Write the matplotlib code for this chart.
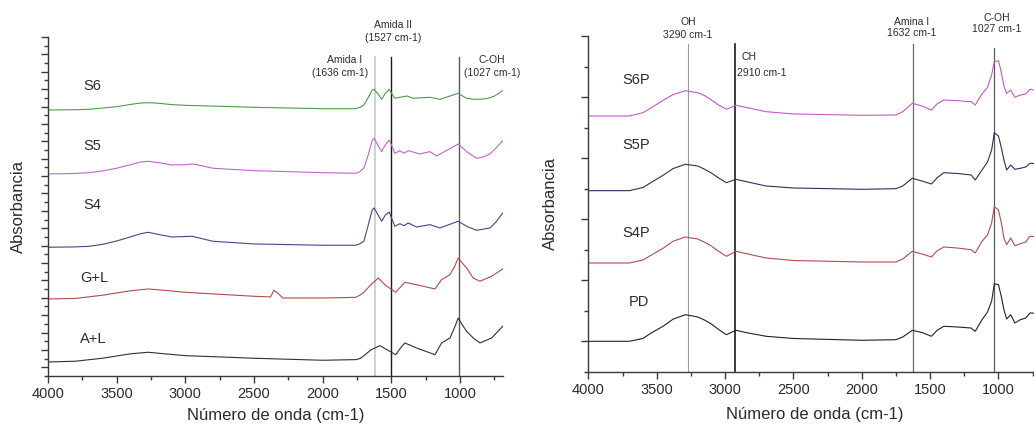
"""
FTIR spectra: films (left) and coated samples (right).
Two panels side by side, stacked spectra with assigned bands.
"""

import matplotlib
matplotlib.use("Agg")
import matplotlib.pyplot as plt
import numpy as np

# ── Data ─────────────────────────────────────────────────────────────────────
# left panel, wavenumber (cm-1) / absorbance (stacked, arbitrary units)
WN_S6 = [4000, 3800, 3700, 3600, 3500, 3400, 3330, 3270, 3200, 3100, 3000, 2800, 2500,
         2000, 1760, 1730, 1700, 1670, 1640, 1627, 1600, 1571, 1545, 1516, 1495, 1475,
         1387, 1343, 1219, 1147, 1014, 960, 905, 850, 807, 750, 690]
A_S6 = [30.60, 30.63, 30.68, 30.83, 30.98, 31.24, 31.40, 31.44, 31.38, 31.22, 31.14,
        31.05, 30.91, 30.75, 30.75, 30.90, 31.18, 32.0, 32.9, 32.98, 32.5, 31.83, 32.5,
        32.98, 32.4, 31.95, 32.21, 31.95, 32.06, 31.83, 32.52, 32.0, 31.83, 31.85,
        31.90, 32.2, 32.82]

WN_S5 = [4000, 3800, 3700, 3600, 3500, 3400, 3330, 3270, 3200, 3100, 3000, 2950, 2900,
         2800, 2500, 2000, 1760, 1730, 1700, 1670, 1640, 1627, 1600, 1571, 1545, 1516,
         1495, 1475, 1438, 1409, 1378, 1293, 1220, 1171, 1014, 980, 953, 880, 830, 783,
         740, 690]
A_S5 = [23.24, 23.30, 23.39, 23.60, 23.90, 24.30, 24.60, 24.70, 24.55, 24.28, 24.30,
        24.39, 24.25, 23.90, 23.62, 23.39, 23.32, 23.50, 23.93, 25.40, 27.10, 27.35,
        26.60, 25.81, 26.60, 27.15, 26.40, 25.62, 25.92, 25.62, 25.92, 25.54, 25.81,
        25.31, 26.69, 26.20, 25.81, 25.05, 25.20, 25.54, 26.20, 27.07]

WN_S4 = [4000, 3800, 3700, 3600, 3500, 3400, 3330, 3270, 3200, 3100, 2950, 2800, 2500,
         2000, 1760, 1730, 1700, 1670, 1640, 1627, 1600, 1571, 1545, 1516, 1495, 1475,
         1438, 1409, 1378, 1317, 1220, 1147, 1014, 950, 880, 783, 740, 690]
A_S4 = [14.81, 14.85, 14.92, 15.15, 15.53, 16.00, 16.35, 16.53, 16.30, 15.99, 16.07,
        15.50, 15.19, 15.04, 15.04, 15.20, 15.53, 17.30, 19.10, 19.33, 18.60, 17.80,
        18.50, 18.87, 18.00, 17.22, 17.52, 17.29, 17.60, 17.14, 17.41, 17.03, 17.80,
        17.20, 16.76, 17.03, 17.70, 18.75]

WN_GL = [4000, 3800, 3600, 3500, 3400, 3270, 3150, 3000, 2500, 2380, 2355, 2320, 2290,
         2000, 1760, 1730, 1700, 1650, 1596, 1540, 1469, 1430, 1402, 1317, 1183, 1135,
         1074, 1040, 1014, 985, 953, 905, 856, 771, 690]
A_GL = [8.86, 8.92, 9.30, 9.55, 9.80, 10.01, 9.85, 9.63, 9.17, 9.09, 9.86, 9.43, 8.97,
        8.97, 9.05, 9.30, 9.63, 10.50, 11.27, 10.40, 9.63, 10.30, 10.78, 10.50, 10.01,
        11.08, 11.65, 12.60, 13.58, 13.00, 12.43, 11.27, 10.90, 11.47, 12.31]

WN_AL = [4000, 3800, 3600, 3500, 3400, 3270, 3150, 3000, 2500, 2000, 1760, 1730, 1700,
         1650, 1584, 1530, 1469, 1430, 1402, 1317, 1183, 1135, 1074, 1040, 1014, 985,
         953, 905, 856, 771, 690]
A_AL = [1.61, 1.70, 2.05, 2.30, 2.55, 2.73, 2.55, 2.34, 2.04, 1.81, 1.88, 2.00, 2.34,
        3.00, 3.49, 3.00, 2.45, 3.30, 3.80, 3.22, 2.45, 3.80, 4.37, 5.60, 6.67, 5.90,
        5.14, 4.37, 3.80, 4.37, 5.72]

# right panel, all four spectra share the same wavenumber grid
WN_P = [4000, 3800, 3700, 3600, 3550, 3450, 3380, 3290, 3200, 3150, 3100, 3050, 2990,
        2920, 2850, 2700, 2500, 2000, 1750, 1700, 1630, 1560, 1490, 1450, 1400, 1300,
        1200, 1170, 1120, 1080, 1050, 1030, 1000, 980, 960, 940, 910, 880, 840, 800,
        770, 690]
A_S6P = [8.381, 8.381, 8.381, 8.489, 8.62, 8.905, 9.08, 9.209, 9.144, 9.05, 8.905, 8.75,
         8.600, 8.731, 8.666, 8.522, 8.447, 8.404, 8.414, 8.522, 8.797, 8.709, 8.577,
         8.774, 8.905, 8.882, 8.849, 8.741, 9.101, 9.321, 9.723, 10.159, 10.192, 9.831,
         9.363, 9.124, 9.232, 8.993, 9.068, 9.101, 9.255, 9.20]
A_S5P = [5.936, 5.936, 5.936, 6.040, 6.18, 6.450, 6.66, 6.800, 6.744, 6.64, 6.515, 6.36,
         6.197, 6.309, 6.237, 6.089, 6.024, 5.981, 6.001, 6.089, 6.341, 6.253, 6.155,
         6.351, 6.525, 6.499, 6.450, 6.286, 6.613, 6.875, 7.268, 7.834, 7.726, 7.366,
         6.940, 6.613, 6.777, 6.636, 6.669, 6.711, 6.833, 6.810]
A_S4P = [3.568, 3.568, 3.568, 3.667, 3.80, 4.059, 4.28, 4.420, 4.354, 4.25, 4.125, 3.96,
         3.788, 3.952, 3.879, 3.732, 3.650, 3.601, 3.601, 3.699, 3.952, 3.863, 3.765,
         3.961, 4.092, 4.059, 4.004, 3.896, 4.279, 4.485, 4.878, 5.412, 5.304, 4.911,
         4.387, 4.168, 4.387, 4.135, 4.200, 4.256, 4.443, 4.420]
A_PD = [1.005, 1.005, 1.005, 1.097, 1.25, 1.506, 1.73, 1.876, 1.801, 1.70, 1.571, 1.40,
        1.221, 1.365, 1.293, 1.169, 1.097, 1.038, 1.057, 1.146, 1.365, 1.293, 1.169,
        1.359, 1.496, 1.473, 1.440, 1.332, 1.712, 1.964, 2.315, 2.891, 2.858, 2.488,
        2.040, 1.735, 1.876, 1.604, 1.712, 1.768, 1.932, 1.915]

# sample labels: (text, wavenumber, absorbance)
LABELS_L = [("S6", 3680, 33.36), ("S5", 3680, 26.46), ("S4", 3680, 19.67),
            ("G+L", 3665, 11.27), ("A+L", 3672, 4.26)]
LABELS_R = [("S6P", 3651, 9.56), ("S5P", 3651, 7.43), ("S4P", 3651, 4.55),
            ("PD", 3629, 2.29)]

# band markers
BANDS_L = [1618, 1506, 1009]
BANDS_R = [3270, 2930, 1627, 1029]

XTICKS = [4000, 3500, 3000, 2500, 2000, 1500, 1000]

# ── Styling ──────────────────────────────────────────────────────────────────
AX_COLOR = "#3a3a3a"
TXT = "#2b2b2b"

plt.rcParams.update({
    "font.family": ["Liberation Sans", "DejaVu Sans"],
    "axes.edgecolor": AX_COLOR,
    "axes.linewidth": 1.0,
    "xtick.color": AX_COLOR,
    "ytick.color": AX_COLOR,
    "xtick.labelcolor": TXT,
    "text.color": TXT,
    "axes.labelcolor": TXT,
})


def style_axes(ax, ymax):
    for s in ("top", "right"):
        ax.spines[s].set_visible(False)
    ax.set_xlim(4000, 690)
    ax.set_ylim(0, ymax)
    ax.set_xticks(XTICKS)
    ax.set_xticks(np.arange(3750, 600, -500), minor=True)
    ax.set_yticks(np.arange(1, ymax + 1, 2))
    ax.set_yticks(np.arange(0, ymax + 1, 2), minor=True)
    ax.set_yticklabels([])
    ax.tick_params(axis="x", which="major", length=5, width=1, labelsize=10.5, pad=3)
    ax.tick_params(axis="x", which="minor", length=3, width=1)
    ax.tick_params(axis="y", which="major", length=5, width=1)
    ax.tick_params(axis="y", which="minor", length=3, width=1)
    ax.set_xlabel("Número de onda (cm-1)", fontsize=12)
    ax.set_ylabel("Absorbancia", fontsize=12)


def note(ax, x, y, s, ha="center"):
    ax.text(x, y, s, transform=ax.get_xaxis_transform(), ha=ha, va="center",
            fontsize=7.5, color=TXT, clip_on=False)


def plot_left(fig):
    ax = fig.add_axes([0.0464, 0.1174, 0.4398, 0.7958])
    style_axes(ax, 39)

    ax.axvline(BANDS_L[0], ymax=0.941, color="#c8c8c8", lw=1.2, zorder=1)
    ax.axvline(BANDS_L[1], ymax=0.941, color="#1a1a1a", lw=1.0, zorder=1)
    ax.axvline(BANDS_L[2], ymax=0.941, color="#5a5a5a", lw=1.0, zorder=1)

    ax.plot(WN_S6, A_S6, color="#4f9a4f", lw=0.8)
    ax.plot(WN_S5, A_S5, color="#c464c8", lw=0.8)
    ax.plot(WN_S4, A_S4, color="#3e4a86", lw=0.8)
    ax.plot(WN_GL, A_GL, color="#b44a4a", lw=0.8)
    ax.plot(WN_AL, A_AL, color="#303030", lw=0.8)

    for s, x, y in LABELS_L:
        ax.text(x, y, s, ha="center", va="center", fontsize=10.5)

    note(ax, 1489, 1.035, "Amida II")
    note(ax, 1489, 0.997, "(1527 cm-1)")
    note(ax, 1840, 0.932, "Amida I")
    note(ax, 1870, 0.894, "(1636 cm-1)")
    note(ax, 769, 0.932, "C-OH")
    note(ax, 770, 0.894, "(1027 cm-1)")

    ax.xaxis.set_label_coords(0.5, -0.094)
    ax.yaxis.set_label_coords(-0.048, 0.5)


def plot_right(fig):
    ax = fig.add_axes([0.5690, 0.1268, 0.4376, 0.7887])
    style_axes(ax, 11)

    ax.axvline(BANDS_R[0], ymax=0.976, color="#9a9a9a", lw=0.8, zorder=1)
    ax.axvline(BANDS_R[1], ymax=0.976, color="#1a1a1a", lw=1.2, zorder=1)
    ax.axvline(BANDS_R[2], ymax=0.976, color="#6a6a6a", lw=0.9, zorder=1)
    ax.axvline(BANDS_R[3], ymax=0.964, color="#5a5a5a", lw=0.9, zorder=1)

    ax.plot(WN_P, A_S6P, color="#c458c4", lw=0.8)
    ax.plot(WN_P, A_S5P, color="#2e2e5e", lw=0.8)
    ax.plot(WN_P, A_S4P, color="#b44c4c", lw=0.8)
    ax.plot(WN_P, A_PD, color="#222222", lw=0.8)

    for s, x, y in LABELS_R:
        ax.text(x, y, s, ha="center", va="center", fontsize=10.5)

    note(ax, 3270, 1.043, "OH")
    note(ax, 3270, 1.003, "3290 cm-1")
    note(ax, 2825, 0.9375, "CH")
    note(ax, 2915, 0.890, "2910 cm-1", ha="left")
    note(ax, 1633, 1.043, "Amina I")
    note(ax, 1633, 1.008, "1632 cm-1")
    note(ax, 1012, 1.053, "C-OH")
    note(ax, 1012, 1.020, "1027 cm-1")

    ax.xaxis.set_label_coords(0.5, -0.104)
    ax.yaxis.set_label_coords(-0.067, 0.5)


def main():
    fig = plt.figure(figsize=(10.34, 4.26), dpi=100, facecolor="white")
    plot_left(fig)
    plot_right(fig)
    fig.savefig("out.png", dpi=100, facecolor="white")
    plt.close(fig)


if __name__ == "__main__":
    main()
